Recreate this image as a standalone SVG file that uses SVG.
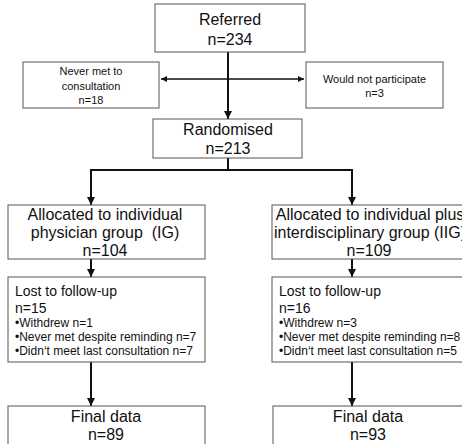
<svg xmlns="http://www.w3.org/2000/svg" width="462" height="444" viewBox="0 0 462 444">
<style>
.box{fill:#fff;stroke:#555;stroke-width:1}
.t{font-family:"Liberation Sans",Arial,sans-serif;fill:#111;white-space:pre}
.big{font-size:16px;text-anchor:middle}
.sm{font-size:11px;text-anchor:middle}
.mid{font-size:14px}
.bul{font-size:12px}
.ln{fill:none;stroke:#111;stroke-width:2}
.ln2{fill:none;stroke:#111;stroke-width:1.5}
</style>
<defs>
<marker id="ah" viewBox="0 0 8 8" refX="8" refY="4" markerWidth="4" markerHeight="4" orient="auto-start-reverse" markerUnits="strokeWidth">
<path d="M0,0 L8,4 L0,8 Z" fill="#111"/>
</marker>
</defs>
<rect width="462" height="444" fill="#fff"/>
<g id="connectors">
<line class="ln2" x1="161" y1="79" x2="304" y2="79" marker-start="url(#ah)" marker-end="url(#ah)"/>
<line class="ln" x1="228" y1="52" x2="228" y2="119" marker-end="url(#ah)"/>
<polyline class="ln" points="228,158 228,170 91,170 91,205" marker-end="url(#ah)"/>
<polyline class="ln" points="228,170 352,170 352,205" marker-end="url(#ah)"/>
<line class="ln" x1="91" y1="259" x2="91" y2="277" marker-end="url(#ah)"/>
<line class="ln" x1="352" y1="259" x2="352" y2="277" marker-end="url(#ah)"/>
<line class="ln" x1="91" y1="362" x2="91" y2="406" marker-end="url(#ah)"/>
<line class="ln" x1="352" y1="362" x2="352" y2="406" marker-end="url(#ah)"/>
</g>
<g id="referred">
<rect class="box" x="155" y="4" width="150" height="48"/>
<text class="t big" x="230" y="25">Referred</text>
<text class="t big" x="230" y="45">n=234</text>
</g>
<g id="never-met">
<rect class="box" x="23" y="62" width="136" height="46"/>
<text class="t sm" x="91" y="75">Never met to</text>
<text class="t sm" x="91" y="89.5">consultation</text>
<text class="t sm" x="91" y="104">n=18</text>
</g>
<g id="would-not">
<rect class="box" x="306" y="62" width="137" height="46"/>
<text class="t sm" x="374.5" y="83">Would not participate</text>
<text class="t sm" x="374.5" y="97">n=3</text>
</g>
<g id="randomised">
<rect class="box" x="153" y="119" width="149" height="39"/>
<text class="t big" x="228" y="135">Randomised</text>
<text class="t big" x="228" y="154">n=213</text>
</g>
<g id="alloc-ig">
<rect class="box" x="8" y="205" width="197" height="54"/>
<text class="t big" x="105" y="220">Allocated to individual</text>
<text class="t big" x="105" y="238">physician group  (IG)</text>
<text class="t big" x="105" y="256">n=104</text>
</g>
<g id="alloc-iig">
<rect class="box" x="272" y="205" width="202" height="54"/>
<text class="t big" x="370" y="220">Allocated to individual plus</text>
<text class="t big" x="370" y="238">interdisciplinary group (IIG)</text>
<text class="t big" x="369" y="256">n=109</text>
</g>
<g id="lost-ig">
<rect class="box" x="8" y="277" width="197" height="85"/>
<text class="t mid" x="15" y="296">Lost to follow-up</text>
<text class="t mid" x="15" y="313">n=15</text>
<text class="t bul" x="15" y="327">•Withdrew n=1</text>
<text class="t bul" x="15" y="341">•Never met despite reminding n=7</text>
<text class="t bul" x="15" y="355">•Didn‘t meet last consultation n=7</text>
</g>
<g id="lost-iig">
<rect class="box" x="272" y="277" width="202" height="85"/>
<text class="t mid" x="279" y="296">Lost to follow-up</text>
<text class="t mid" x="279" y="313">n=16</text>
<text class="t bul" x="279" y="327">•Withdrew n=3</text>
<text class="t bul" x="279" y="341">•Never met despite reminding n=8</text>
<text class="t bul" x="279" y="355">•Didn‘t meet last consultation n=5</text>
</g>
<g id="final-ig">
<rect class="box" x="8" y="406" width="197" height="50"/>
<text class="t big" x="106" y="422">Final data</text>
<text class="t big" x="106" y="440">n=89</text>
</g>
<g id="final-iig">
<rect class="box" x="273" y="406" width="202" height="50"/>
<text class="t big" x="368" y="422">Final data</text>
<text class="t big" x="368" y="440">n=93</text>
</g>
</svg>
